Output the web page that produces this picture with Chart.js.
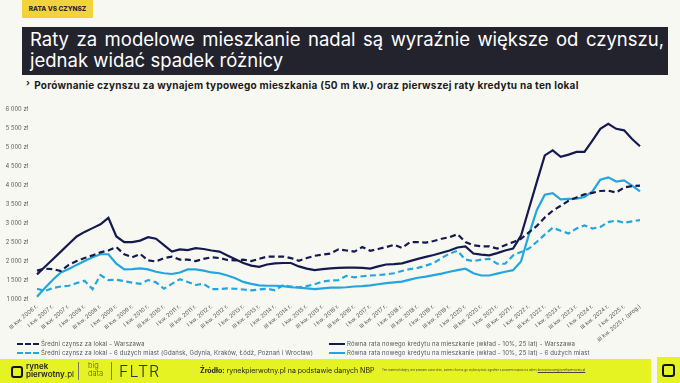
<!DOCTYPE html>
<html lang="pl">
<head>
<meta charset="utf-8">
<script src="https://cdn.jsdelivr.net/npm/chart.js@4.4.1/dist/chart.umd.min.js"></script>
<style>
  html, body { margin: 0; padding: 0; }
  body { width: 680px; height: 383px; background: #f8f8f3; position: relative; overflow: hidden; font-family: Inter, "Open Sans", sans-serif; }
  .tag { position: absolute; left: 22px; top: 0; width: 71px; height: 18px; background: #f2d43a; color: #2a2a2a; font-size: 6.5px; font-weight: 800; line-height: 18px; text-align: center; }
  .title { position: absolute; left: 22px; top: 27px; width: 646px; height: 48px; background: #23232e; color: #fff; box-sizing: border-box; padding: 2px 4px 0 8px; font-size: 18.5px; line-height: 21px; text-align: justify; text-align-last: left; }
  .sub { position: absolute; left: 26px; top: 79px; font-size: 10px; letter-spacing: 0.25px; font-weight: 700; color: #1c1c1c; white-space: nowrap; }
  .sub span { font-size: 9px; position: relative; top: -3px; margin-right: 4px; }
  #chartBox { position: absolute; left: 0; top: 97px; width: 660px; height: 258px; }
  .legend { position: absolute; font-size: 6px; letter-spacing: 0.15px; color: #555; white-space: nowrap; }
  .legend i { display: inline-block; height: 0; vertical-align: middle; margin-right: 2px; }
  .footer { position: absolute; left: 0; top: 359px; width: 651px; height: 24px; background: #e6f323; }
  .corner { position: absolute; left: 657px; top: 357px; width: 23px; height: 26px; background: #e6f323; }
  .corner div { position: absolute; left: 5px; top: 7px; width: 9px; height: 9px; border: 2px solid #111; border-radius: 3px; }
  .f { position: absolute; color: #1c1c1c; white-space: nowrap; }
</style>
</head>
<body>
<div class="tag">RATA VS CZYNSZ</div>
<div class="title">Raty za modelowe mieszkanie nadal są wyraźnie większe od czynszu, jednak widać spadek różnicy</div>
<div class="sub"><span>›</span>Porównanie czynszu za wynajem typowego mieszkania (50 m kw.) oraz pierwszej raty kredytu na ten lokal</div>

<div id="chartBox"><canvas id="rentChart"></canvas></div>

<div class="legend" style="left:17px; top:340px;"><i style="width:22px; border-top:2.2px dashed #141a4d;"></i>Średni czynsz za lokal - Warszawa</div>
<div class="legend" style="left:17px; top:349px;"><i style="width:22px; border-top:2.2px dashed #22a6e0;"></i>Średni czynsz za lokal - 6 dużych miast (Gdańsk, Gdynia, Kraków, Łódź, Poznań i Wrocław)</div>
<div class="legend" style="left:329px; top:340px;"><i style="width:16px; border-top:2.2px solid #141a4d;"></i>Równa rata nowego kredytu na mieszkanie (wkład - 10%, 25 lat) - Warszawa</div>
<div class="legend" style="left:329px; top:349px;"><i style="width:16px; border-top:2.2px solid #22a6e0;"></i>Równa rata nowego kredytu na mieszkanie (wkład - 10%, 25 lat) - 6 dużych miast</div>

<div class="footer">
  <div class="f" style="left:11px; top:7px; width:8px; height:8px; border:2px solid #111; border-radius:3px;"></div>
  <div class="f" style="left:26px; top:3px; font-size:8px; line-height:8px; font-weight:600;">rynek<br>pierwotny<span style="font-weight:400">.pl</span></div>
  <div class="f" style="left:78px; top:3px; width:0; height:18px; border-left:0.6px solid #777;"></div>
  <div class="f" style="left:88px; top:3px; font-size:7.5px; line-height:7.5px; font-weight:300; color:#555;">big<br>data</div>
  <div class="f" style="left:111px; top:3px; width:0; height:18px; border-left:0.6px solid #777;"></div>
  <div class="f" style="left:119px; top:2px; font-size:16px; font-weight:300; letter-spacing:1px; color:#333;">FLTR</div>
  <div class="f" style="left:200px; top:7px; font-size:7px;"><b>Źródło:</b> rynekpierwotny.pl na podstawie danych NBP</div>
  <div class="f" style="left:382px; top:9px; font-size:3px; color:#444;">Ten materiał objęty jest prawem autorskim, zatem chcesz go wykorzystać zgodnie z prawem napisz na adres <u>biuroprasowe@rynekpierwotny.pl</u></div>
</div>
<div class="corner"><div></div></div>

<script>
// ---------------- Quarter labels (III kw. 2006 - III kw. 2025) ----------------
const romanQ = ['I', 'II', 'III', 'IV'];
const quarters = [];
for (let y = 2006; y <= 2025; y++) {
    for (let q = 0; q < 4; q++) {
        if (y === 2006 && q < 2) continue;
        if (y === 2025 && q > 2) continue;
        quarters.push(romanQ[q] + ' kw. ' + y + ' r.' + (y === 2025 && q === 2 ? ' (prog.)' : ''));
    }
}

// ---------------- Series (zł / month) ----------------
const rentWarsaw = [
    1750, 1800, 1790, 1740, 1900, 2000, 2080, 2150, 2230, 2280,
    2370, 2180, 2100, 2190, 2020, 1990, 2080, 2120, 2040, 2040,
    2000, 2060, 2100, 2080, 2030, 2020, 2040, 2000, 2060, 2120,
    2120, 2120, 2080, 2010, 2080, 2140, 2170, 2200, 2310, 2280,
    2250, 2370, 2270, 2320, 2370, 2430, 2350, 2500, 2500, 2490,
    2530, 2590, 2630, 2710, 2500, 2420, 2390, 2390, 2330, 2420,
    2500, 2590, 2760, 2930, 3150, 3330, 3460, 3590, 3680, 3760,
    3800, 3850, 3860, 3810, 3940, 3980, 3990
];
const rent6Cities = [
    1270, 1210, 1290, 1330, 1350, 1420, 1480, 1260, 1630, 1500,
    1510, 1470, 1430, 1400, 1500, 1440, 1270, 1400, 1520, 1450,
    1370, 1400, 1260, 1260, 1280, 1270, 1250, 1230, 1250, 1270,
    1230, 1360, 1330, 1310, 1340, 1390, 1460, 1490, 1500, 1610,
    1570, 1600, 1620, 1630, 1650, 1680, 1740, 1790, 1820, 1880,
    1950, 2080, 2200, 2270, 2040, 2000, 2040, 2060, 1930, 1930,
    2150, 2240, 2330, 2510, 2700, 2880, 2800, 2730, 2860, 2940,
    2860, 2900, 3030, 3070, 3010, 3050, 3080
];
const loanWarsaw = [
    1650, 1850, 2050, 2250, 2450, 2650, 2770, 2870, 2970, 3140,
    2650, 2500, 2500, 2540, 2630, 2590, 2420, 2250, 2310, 2290,
    2340, 2320, 2280, 2250, 2150, 2050, 1950, 1880, 1850, 1910,
    1940, 1950, 1950, 1860, 1800, 1760, 1790, 1810, 1820, 1830,
    1830, 1820, 1800, 1860, 1910, 1920, 1940, 2000, 2060, 2110,
    2160, 2220, 2280, 2360, 2390, 2200, 2170, 2150, 2210, 2280,
    2330, 2670, 3380, 4090, 4790, 4920, 4750, 4810, 4880, 4880,
    5180, 5490, 5620, 5490, 5450, 5220, 5030
];
const loan6Cities = [
    1060, 1290, 1510, 1700, 1790, 1900, 2000, 2100, 2180, 2180,
    1930, 1780, 1790, 1810, 1780, 1720, 1680, 1660, 1700, 1780,
    1780, 1750, 1700, 1680, 1620, 1550, 1450, 1400, 1360, 1350,
    1350, 1340, 1310, 1300, 1280, 1260, 1280, 1300, 1300, 1310,
    1330, 1340, 1360, 1390, 1420, 1440, 1460, 1510, 1560, 1590,
    1630, 1670, 1720, 1760, 1800, 1680, 1620, 1620, 1670, 1720,
    1760, 1990, 2700, 3350, 3750, 3790, 3630, 3640, 3650, 3690,
    3840, 4150, 4210, 4100, 4130, 3990, 3840
];

const navy = '#141a4d';
const sky = '#22a6e0';

const ctx = document.getElementById('rentChart').getContext('2d');
new Chart(ctx, {
    type: 'line',
    data: {
        labels: quarters,
        datasets: [
            { label: 'Średni czynsz za lokal - Warszawa', data: rentWarsaw, borderColor: navy, borderDash: [6, 3.5] },
            { label: 'Średni czynsz za lokal - 6 dużych miast', data: rent6Cities, borderColor: sky, borderDash: [6, 3.5] },
            { label: 'Równa rata - Warszawa', data: loanWarsaw, borderColor: navy },
            { label: 'Równa rata - 6 dużych miast', data: loan6Cities, borderColor: sky }
        ]
    },
    options: {
        responsive: true,
        maintainAspectRatio: false,
        animation: false,
        layout: { padding: { top: 5, right: 20, left: 0, bottom: 0 } },
        elements: {
            point: { radius: 0 },
            line: { borderWidth: 2.2, tension: 0, fill: false }
        },
        plugins: { legend: { display: false }, tooltip: { enabled: false } },
        scales: {
            x: {
                grid: { display: false, drawTicks: false },
                border: { display: false },
                ticks: {
                    autoSkip: false,
                    maxRotation: 40,
                    minRotation: 40,
                    padding: 4,
                    color: '#555',
                    font: { family: 'Inter', size: 5.6 },
                    callback: (v, i) => i % 2 === 0 ? quarters[i] : ''
                },
                afterFit: axis => { axis.height = 56; }
            },
            y: {
                min: 1000,
                max: 6000,
                grid: { display: false, drawTicks: false },
                border: { display: false },
                ticks: {
                    stepSize: 500,
                    padding: 9,
                    color: '#555',
                    font: { family: 'Inter', size: 5.8 },
                    callback: v => String(v).replace(/\B(?=(\d{3})+(?!\d))/g, ' ') + ' zł'
                },
                afterFit: axis => { axis.width = 37; }
            }
        }
    }
});
</script>
</body>
</html>
